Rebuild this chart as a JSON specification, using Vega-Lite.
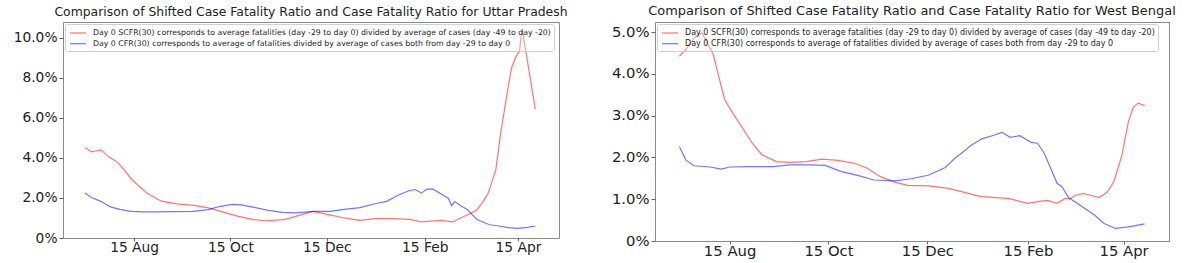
{
  "$schema": "https://vega.github.io/schema/vega-lite/v6.json",
  "padding": {"left": 12, "top": 4, "right": 0, "bottom": 0},
  "config": {
    "font": "DejaVu Sans",
    "view": {"stroke": "#8a8a8a", "strokeWidth": 1},
    "axis": {"grid": false, "domain": false, "tickColor": "#666", "tickSize": 4, "labelPadding": 2, "labelColor": "#222", "labelFont": "DejaVu Sans"},
    "axisX": {"tickSize": 3, "labelPadding": -1},
    "title": {"font": "DejaVu Sans", "fontWeight": "normal", "color": "#222", "offset": 4, "anchor": "middle"},
    "legend": {"orient": "top-left", "offset": 2, "fillColor": "rgba(255,255,255,0.3)", "strokeColor": "#d0d0d0", "padding": 3, "labelColor": "#222", "labelFont": "DejaVu Sans", "symbolType": "M-0.8,0H2.4", "symbolSize": 100, "symbolStrokeWidth": 1.2, "symbolOpacity": 0.55, "labelLimit": 800, "rowPadding": 0.7, "labelOffset": 13, "cornerRadius": 2},
    "concat": {"spacing": 41}
  },
  "resolve": {"scale": {"color": "independent", "x": "independent", "y": "independent"}, "legend": {"color": "independent"}},
  "hconcat": [
    {
      "width": 496,
      "height": 216,
      "title": {"text": "Comparison of Shifted Case Fatality Ratio and Case Fatality Ratio for Uttar Pradesh", "fontSize": 12.4},
      "data": {"values": [
        {"date": "2020-07-15", "series": "SCFR", "value": 4.5},
        {"date": "2020-07-19", "series": "SCFR", "value": 4.3},
        {"date": "2020-07-21", "series": "SCFR", "value": 4.33},
        {"date": "2020-07-25", "series": "SCFR", "value": 4.4},
        {"date": "2020-07-30", "series": "SCFR", "value": 4.05},
        {"date": "2020-08-05", "series": "SCFR", "value": 3.75},
        {"date": "2020-08-09", "series": "SCFR", "value": 3.38},
        {"date": "2020-08-13", "series": "SCFR", "value": 2.97},
        {"date": "2020-08-17", "series": "SCFR", "value": 2.67},
        {"date": "2020-08-23", "series": "SCFR", "value": 2.25},
        {"date": "2020-08-28", "series": "SCFR", "value": 2.02},
        {"date": "2020-09-01", "series": "SCFR", "value": 1.85},
        {"date": "2020-09-11", "series": "SCFR", "value": 1.7},
        {"date": "2020-09-22", "series": "SCFR", "value": 1.63},
        {"date": "2020-10-01", "series": "SCFR", "value": 1.5},
        {"date": "2020-10-10", "series": "SCFR", "value": 1.3},
        {"date": "2020-10-20", "series": "SCFR", "value": 1.08},
        {"date": "2020-10-30", "series": "SCFR", "value": 0.92},
        {"date": "2020-11-06", "series": "SCFR", "value": 0.86},
        {"date": "2020-11-18", "series": "SCFR", "value": 0.92},
        {"date": "2020-11-27", "series": "SCFR", "value": 1.12},
        {"date": "2020-12-06", "series": "SCFR", "value": 1.33},
        {"date": "2020-12-14", "series": "SCFR", "value": 1.2},
        {"date": "2020-12-26", "series": "SCFR", "value": 1.0},
        {"date": "2021-01-05", "series": "SCFR", "value": 0.88},
        {"date": "2021-01-15", "series": "SCFR", "value": 0.97},
        {"date": "2021-01-25", "series": "SCFR", "value": 0.97},
        {"date": "2021-02-06", "series": "SCFR", "value": 0.93},
        {"date": "2021-02-13", "series": "SCFR", "value": 0.8},
        {"date": "2021-02-25", "series": "SCFR", "value": 0.88},
        {"date": "2021-03-05", "series": "SCFR", "value": 0.8},
        {"date": "2021-03-09", "series": "SCFR", "value": 0.97},
        {"date": "2021-03-16", "series": "SCFR", "value": 1.22},
        {"date": "2021-03-20", "series": "SCFR", "value": 1.4},
        {"date": "2021-03-23", "series": "SCFR", "value": 1.72},
        {"date": "2021-03-27", "series": "SCFR", "value": 2.2},
        {"date": "2021-04-01", "series": "SCFR", "value": 3.4},
        {"date": "2021-04-04", "series": "SCFR", "value": 5.2},
        {"date": "2021-04-08", "series": "SCFR", "value": 7.15},
        {"date": "2021-04-11", "series": "SCFR", "value": 8.5},
        {"date": "2021-04-14", "series": "SCFR", "value": 9.1},
        {"date": "2021-04-16", "series": "SCFR", "value": 9.3},
        {"date": "2021-04-17", "series": "SCFR", "value": 10.1},
        {"date": "2021-04-18", "series": "SCFR", "value": 10.3},
        {"date": "2021-04-22", "series": "SCFR", "value": 8.35},
        {"date": "2021-04-26", "series": "SCFR", "value": 6.42},
        {"date": "2020-07-15", "series": "CFR", "value": 2.24},
        {"date": "2020-07-19", "series": "CFR", "value": 2.02},
        {"date": "2020-07-25", "series": "CFR", "value": 1.83},
        {"date": "2020-07-31", "series": "CFR", "value": 1.55},
        {"date": "2020-08-06", "series": "CFR", "value": 1.43},
        {"date": "2020-08-13", "series": "CFR", "value": 1.33},
        {"date": "2020-08-21", "series": "CFR", "value": 1.3},
        {"date": "2020-08-28", "series": "CFR", "value": 1.3},
        {"date": "2020-09-09", "series": "CFR", "value": 1.32},
        {"date": "2020-09-21", "series": "CFR", "value": 1.33},
        {"date": "2020-10-01", "series": "CFR", "value": 1.42},
        {"date": "2020-10-08", "series": "CFR", "value": 1.57},
        {"date": "2020-10-16", "series": "CFR", "value": 1.68},
        {"date": "2020-10-22", "series": "CFR", "value": 1.65},
        {"date": "2020-10-30", "series": "CFR", "value": 1.53},
        {"date": "2020-11-08", "series": "CFR", "value": 1.38},
        {"date": "2020-11-17", "series": "CFR", "value": 1.28},
        {"date": "2020-11-25", "series": "CFR", "value": 1.25},
        {"date": "2020-12-07", "series": "CFR", "value": 1.33},
        {"date": "2020-12-17", "series": "CFR", "value": 1.33},
        {"date": "2020-12-26", "series": "CFR", "value": 1.43},
        {"date": "2021-01-05", "series": "CFR", "value": 1.52},
        {"date": "2021-01-15", "series": "CFR", "value": 1.72},
        {"date": "2021-01-22", "series": "CFR", "value": 1.83},
        {"date": "2021-01-29", "series": "CFR", "value": 2.13},
        {"date": "2021-02-05", "series": "CFR", "value": 2.36},
        {"date": "2021-02-09", "series": "CFR", "value": 2.42},
        {"date": "2021-02-13", "series": "CFR", "value": 2.24},
        {"date": "2021-02-16", "series": "CFR", "value": 2.43},
        {"date": "2021-02-20", "series": "CFR", "value": 2.45},
        {"date": "2021-02-25", "series": "CFR", "value": 2.22},
        {"date": "2021-03-02", "series": "CFR", "value": 1.97},
        {"date": "2021-03-04", "series": "CFR", "value": 1.62},
        {"date": "2021-03-06", "series": "CFR", "value": 1.82},
        {"date": "2021-03-10", "series": "CFR", "value": 1.6},
        {"date": "2021-03-14", "series": "CFR", "value": 1.42},
        {"date": "2021-03-20", "series": "CFR", "value": 0.92},
        {"date": "2021-03-28", "series": "CFR", "value": 0.66},
        {"date": "2021-04-03", "series": "CFR", "value": 0.6},
        {"date": "2021-04-09", "series": "CFR", "value": 0.52},
        {"date": "2021-04-15", "series": "CFR", "value": 0.48},
        {"date": "2021-04-21", "series": "CFR", "value": 0.53},
        {"date": "2021-04-26", "series": "CFR", "value": 0.6}
      ]},
      "mark": {"type": "line", "strokeWidth": 1.2, "opacity": 0.55},
      "encoding": {
        "x": {"field": "date", "type": "temporal", "title": null,
          "scale": {"type": "utc", "domain": [{"year": 2020, "month": 7, "date": 1, "utc": true}, {"year": 2021, "month": 5, "date": 11, "utc": true}]},
          "axis": {"labelExpr": "utcFormat(datum.value, '%d %b')", "labelFontSize": 13.8, "labelAngle": 0, "labelFlush": false,
            "values": [{"year": 2020, "month": 8, "date": 15, "utc": true}, {"year": 2020, "month": 10, "date": 15, "utc": true}, {"year": 2020, "month": 12, "date": 15, "utc": true}, {"year": 2021, "month": 2, "date": 15, "utc": true}, {"year": 2021, "month": 4, "date": 15, "utc": true}]}},
        "y": {"field": "value", "type": "quantitative", "title": null,
          "scale": {"domain": [0, 10.78], "nice": false},
          "axis": {"values": [0, 2, 4, 6, 8, 10], "labelFontSize": 13.8, "labelExpr": "datum.value == 0 ? '0%' : format(datum.value, '.1f') + '%'"}},
        "color": {"field": "series", "type": "nominal",
          "scale": {"domain": ["SCFR", "CFR"], "range": ["red", "blue"]},
          "legend": {"title": null, "labelFontSize": 7.8, "labelExpr": "datum.label == 'SCFR' ? 'Day 0 SCFR(30) corresponds to average fatalities (day -29 to day 0) divided by average of cases (day -49 to day -20)' : 'Day 0 CFR(30) corresponds to average of fatalities divided by average of cases both from day -29 to day 0'"}}
      }
    },
    {
      "width": 514,
      "height": 219,
      "title": {"text": "Comparison of Shifted Case Fatality Ratio and Case Fatality Ratio for West Bengal", "fontSize": 12.95},
      "data": {"values": [
        {"date": "2020-07-15", "series": "SCFR", "value": 4.42},
        {"date": "2020-07-19", "series": "SCFR", "value": 4.58},
        {"date": "2020-07-25", "series": "SCFR", "value": 4.9},
        {"date": "2020-07-29", "series": "SCFR", "value": 4.98},
        {"date": "2020-08-05", "series": "SCFR", "value": 4.46},
        {"date": "2020-08-08", "series": "SCFR", "value": 3.98},
        {"date": "2020-08-12", "series": "SCFR", "value": 3.38},
        {"date": "2020-08-17", "series": "SCFR", "value": 3.06},
        {"date": "2020-08-23", "series": "SCFR", "value": 2.7},
        {"date": "2020-08-29", "series": "SCFR", "value": 2.34},
        {"date": "2020-09-04", "series": "SCFR", "value": 2.06},
        {"date": "2020-09-13", "series": "SCFR", "value": 1.9},
        {"date": "2020-09-21", "series": "SCFR", "value": 1.88},
        {"date": "2020-10-01", "series": "SCFR", "value": 1.9},
        {"date": "2020-10-11", "series": "SCFR", "value": 1.96},
        {"date": "2020-10-21", "series": "SCFR", "value": 1.93},
        {"date": "2020-10-31", "series": "SCFR", "value": 1.86},
        {"date": "2020-11-08", "series": "SCFR", "value": 1.74},
        {"date": "2020-11-16", "series": "SCFR", "value": 1.54},
        {"date": "2020-11-25", "series": "SCFR", "value": 1.41},
        {"date": "2020-12-03", "series": "SCFR", "value": 1.33},
        {"date": "2020-12-16", "series": "SCFR", "value": 1.32},
        {"date": "2020-12-28", "series": "SCFR", "value": 1.26},
        {"date": "2021-01-05", "series": "SCFR", "value": 1.18},
        {"date": "2021-01-17", "series": "SCFR", "value": 1.06},
        {"date": "2021-02-03", "series": "SCFR", "value": 1.02},
        {"date": "2021-02-15", "series": "SCFR", "value": 0.9},
        {"date": "2021-02-21", "series": "SCFR", "value": 0.94},
        {"date": "2021-02-27", "series": "SCFR", "value": 0.97},
        {"date": "2021-03-05", "series": "SCFR", "value": 0.9},
        {"date": "2021-03-10", "series": "SCFR", "value": 1.02},
        {"date": "2021-03-13", "series": "SCFR", "value": 1.01},
        {"date": "2021-03-16", "series": "SCFR", "value": 1.09},
        {"date": "2021-03-21", "series": "SCFR", "value": 1.14},
        {"date": "2021-03-25", "series": "SCFR", "value": 1.1},
        {"date": "2021-03-31", "series": "SCFR", "value": 1.04},
        {"date": "2021-04-05", "series": "SCFR", "value": 1.17},
        {"date": "2021-04-09", "series": "SCFR", "value": 1.42},
        {"date": "2021-04-14", "series": "SCFR", "value": 2.06},
        {"date": "2021-04-18", "series": "SCFR", "value": 2.86},
        {"date": "2021-04-21", "series": "SCFR", "value": 3.2},
        {"date": "2021-04-24", "series": "SCFR", "value": 3.3},
        {"date": "2021-04-28", "series": "SCFR", "value": 3.24},
        {"date": "2020-07-15", "series": "CFR", "value": 2.26},
        {"date": "2020-07-19", "series": "CFR", "value": 1.94},
        {"date": "2020-07-24", "series": "CFR", "value": 1.8},
        {"date": "2020-08-03", "series": "CFR", "value": 1.77},
        {"date": "2020-08-10", "series": "CFR", "value": 1.72},
        {"date": "2020-08-15", "series": "CFR", "value": 1.77},
        {"date": "2020-08-27", "series": "CFR", "value": 1.78},
        {"date": "2020-09-11", "series": "CFR", "value": 1.78},
        {"date": "2020-09-21", "series": "CFR", "value": 1.82},
        {"date": "2020-10-03", "series": "CFR", "value": 1.82},
        {"date": "2020-10-13", "series": "CFR", "value": 1.81},
        {"date": "2020-10-23", "series": "CFR", "value": 1.66},
        {"date": "2020-11-02", "series": "CFR", "value": 1.57},
        {"date": "2020-11-12", "series": "CFR", "value": 1.46},
        {"date": "2020-11-25", "series": "CFR", "value": 1.44},
        {"date": "2020-12-05", "series": "CFR", "value": 1.49},
        {"date": "2020-12-16", "series": "CFR", "value": 1.58},
        {"date": "2020-12-26", "series": "CFR", "value": 1.76},
        {"date": "2021-01-01", "series": "CFR", "value": 1.98},
        {"date": "2021-01-05", "series": "CFR", "value": 2.1},
        {"date": "2021-01-11", "series": "CFR", "value": 2.29},
        {"date": "2021-01-18", "series": "CFR", "value": 2.45},
        {"date": "2021-01-25", "series": "CFR", "value": 2.53},
        {"date": "2021-01-30", "series": "CFR", "value": 2.6},
        {"date": "2021-02-04", "series": "CFR", "value": 2.48},
        {"date": "2021-02-10", "series": "CFR", "value": 2.52},
        {"date": "2021-02-17", "series": "CFR", "value": 2.36},
        {"date": "2021-02-21", "series": "CFR", "value": 2.34},
        {"date": "2021-02-25", "series": "CFR", "value": 2.1},
        {"date": "2021-03-01", "series": "CFR", "value": 1.74},
        {"date": "2021-03-05", "series": "CFR", "value": 1.38},
        {"date": "2021-03-08", "series": "CFR", "value": 1.3},
        {"date": "2021-03-12", "series": "CFR", "value": 1.04},
        {"date": "2021-03-19", "series": "CFR", "value": 0.86},
        {"date": "2021-03-28", "series": "CFR", "value": 0.62},
        {"date": "2021-04-03", "series": "CFR", "value": 0.42},
        {"date": "2021-04-10", "series": "CFR", "value": 0.3},
        {"date": "2021-04-18", "series": "CFR", "value": 0.34},
        {"date": "2021-04-28", "series": "CFR", "value": 0.41}
      ]},
      "mark": {"type": "line", "strokeWidth": 1.2, "opacity": 0.55},
      "encoding": {
        "x": {"field": "date", "type": "temporal", "title": null,
          "scale": {"type": "utc", "domain": [{"year": 2020, "month": 6, "date": 30, "utc": true}, {"year": 2021, "month": 5, "date": 13, "utc": true}]},
          "axis": {"labelExpr": "utcFormat(datum.value, '%d %b')", "labelFontSize": 14.8, "labelAngle": 0, "labelFlush": false,
            "values": [{"year": 2020, "month": 8, "date": 15, "utc": true}, {"year": 2020, "month": 10, "date": 15, "utc": true}, {"year": 2020, "month": 12, "date": 15, "utc": true}, {"year": 2021, "month": 2, "date": 15, "utc": true}, {"year": 2021, "month": 4, "date": 15, "utc": true}]}},
        "y": {"field": "value", "type": "quantitative", "title": null,
          "scale": {"domain": [0, 5.24], "nice": false},
          "axis": {"values": [0, 1, 2, 3, 4, 5], "labelFontSize": 14.8, "labelExpr": "datum.value == 0 ? '0%' : format(datum.value, '.1f') + '%'"}},
        "color": {"field": "series", "type": "nominal",
          "scale": {"domain": ["SCFR", "CFR"], "range": ["red", "blue"]},
          "legend": {"title": null, "labelFontSize": 8.0, "labelExpr": "datum.label == 'SCFR' ? 'Day 0 SCFR(30) corresponds to average fatalities (day -29 to day 0) divided by average of cases (day -49 to day -20)' : 'Day 0 CFR(30) corresponds to average of fatalities divided by average of cases both from day -29 to day 0'"}}
      }
    }
  ]
}
